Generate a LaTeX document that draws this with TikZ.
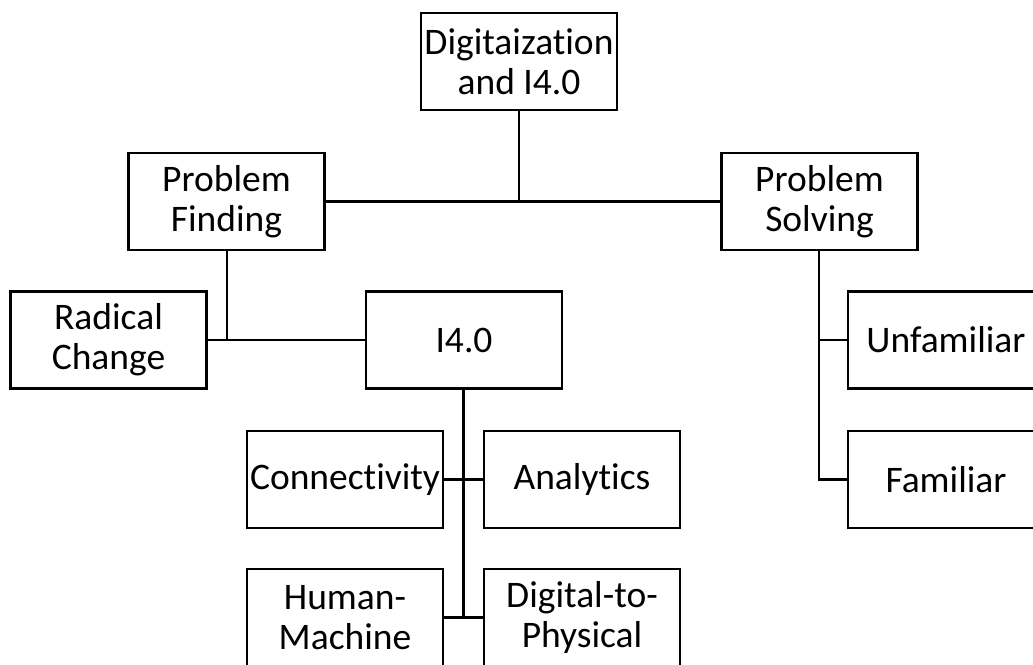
\documentclass[tikz,border=0pt]{standalone}
\usepackage{fontspec}
\setmainfont{Carlito}[Ligatures=NoCommon]
\begin{document}
\begin{tikzpicture}[x=1pt,y=-1pt,
  box/.style={draw=black,line width=2.6pt,rectangle,minimum width=196pt,minimum height=97pt,
    inner sep=0pt,align=center,font=\fontsize{37.5}{40}\selectfont},
  link/.style={draw=black,line width=2.6pt}]
\useasboundingbox (0,0) rectangle (1033,664);
\clip (0,0) rectangle (1033,664);
% tree nodes
\node[box] (top)  at (519,61.5)   {Digitaization\\and I4.0};
\node[box] (pf)   at (226.5,201.5) {Problem\\Finding};
\node[box] (ps)   at (819.5,201.5) {Problem\\Solving};
\node[box] (rc)   at (108.5,340)  {Radical\\Change};
\node[box] (i4)   at (464,340)    {I4.0};
\node[box] (unf)  at (946,340)    {Unfamiliar};
\node[box] (con)  at (345,479.5)  {Connectivity};
\node[box] (ana)  at (582,479.5)  {Analytics};
\node[box] (fam)  at (946,479.5)  {Familiar};
\node[box] (hm)   at (345,617.5)  {Human-\\Machine};
\node[box] (dp)   at (582,617.5)  {Digital-to-\\Physical};
% connectors
\draw[link] (pf.east) -- (ps.west);
\draw[link] (top.south) -- (top.south |- pf.east);
\draw[link] (rc.east) -- (i4.west);
\draw[link] ([xshift=0.5pt]pf.south) -- ([xshift=0.5pt]pf.south |- rc.east);
\draw[link] ([xshift=-0.5pt]i4.south) -- ([xshift=-0.5pt]i4.south |- hm.east);
\draw[link] (con.east) -- (ana.west);
\draw[link] (hm.east) -- (dp.west);
\draw[link] ([xshift=-0.5pt]ps.south) |- (fam.west);
\draw[link] ([xshift=-0.5pt]ps.south |- unf.west) -- (unf.west);
\end{tikzpicture}
\end{document}
